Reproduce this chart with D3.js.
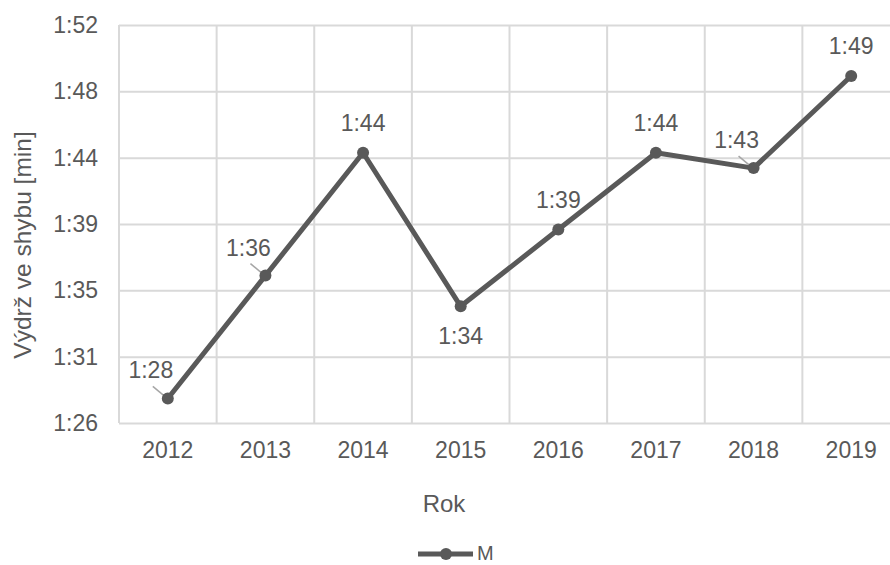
<html>
<script src='https://d3js.org/d3.v7.min.js'></script>
<style>
  body {margin: 0; background: #fff;}
  text {font-family: 'Liberation Sans', Arial, sans-serif; fill: #595959;}
</style>
<body onload='init()'>
<svg width=890 height=565></svg>
<script>
// data: seconds of hold per year
const years = ["2012", "2013", "2014", "2015", "2016", "2017", "2018", "2019"];
const seconds = [88, 96, 104, 94, 99, 104, 103, 109];
// Excel time axis: min 0.001 day, major unit 0.00005 day
const yTicks = [86.4, 90.72, 95.04, 99.36, 103.68, 108, 112.32];
// where each data label sits
const labelPos = ["left", "left", "top", "bottom", "top", "top", "left", "top"];

function fmt(s) {
  s = Math.round(s);
  const m = Math.floor(s / 60), r = s % 60;
  return m + ":" + (r < 10 ? "0" : "") + r;
}

function init() {
  const svg = d3.select("svg");
  const grey = "#595959";

  const x = d3.scaleBand().domain(years).range([119, 900]);
  const y = d3.scaleLinear().domain([86.4, 112.32]).range([423, 25]);

  // horizontal grid + y labels
  const ya = svg.append("g")
    .attr("transform", "translate(119,0)")
    .call(d3.axisLeft(y).tickValues(yTicks).tickFormat(fmt).tickSize(-781).tickPadding(21));
  ya.select(".domain").remove();
  ya.selectAll("line").attr("stroke", "#d9d9d9").attr("stroke-width", 2);
  ya.selectAll("text").style("font-size", "23px").attr("fill", grey);

  // vertical grid lines at band edges
  const edges = years.map(d => x(d)).concat([x.range()[1]]);
  svg.append("g").selectAll("line")
    .data(edges)
    .enter().append("line")
      .attr("x1", d => d).attr("x2", d => d)
      .attr("y1", y(112.32)).attr("y2", y(86.4))
      .attr("stroke", "#d9d9d9").attr("stroke-width", 2);

  // x labels
  const xa = svg.append("g")
    .attr("transform", "translate(0,423)")
    .call(d3.axisBottom(x).tickSize(0).tickPadding(19));
  xa.select(".domain").remove();
  xa.selectAll("text").style("font-size", "23px").attr("fill", grey);

  // axis titles
  svg.append("text")
    .attr("x", 444).attr("y", 512)
    .attr("text-anchor", "middle")
    .style("font-size", "24px")
    .text("Rok");
  svg.append("text")
    .attr("transform", "translate(31,245) rotate(-90)")
    .attr("text-anchor", "middle")
    .style("font-size", "24.5px")
    .text("Výdrž ve shybu [min]");

  const pts = years.map((d, i) => ({ year: d, v: seconds[i], pos: labelPos[i] }));
  const cx = d => x(d.year) + x.bandwidth() / 2;

  // line
  svg.append("path")
    .datum(pts)
    .attr("fill", "none")
    .attr("stroke", grey)
    .attr("stroke-width", 5)
    .attr("stroke-linejoin", "round")
    .attr("d", d3.line().x(cx).y(d => y(d.v)));

  // leader lines for side labels
  svg.append("g").selectAll("line")
    .data(pts.filter(d => d.pos === "left"))
    .enter().append("line")
      .attr("x1", d => cx(d) - 15).attr("y1", d => y(d.v) - 12)
      .attr("x2", d => cx(d) - 3).attr("y2", d => y(d.v) - 2)
      .attr("stroke", "#a6a6a6").attr("stroke-width", 1.5);

  // markers
  svg.append("g").selectAll("circle")
    .data(pts)
    .enter().append("circle")
      .attr("cx", cx)
      .attr("cy", d => y(d.v))
      .attr("r", 6)
      .attr("fill", grey);

  // data labels
  svg.append("g").selectAll("text")
    .data(pts)
    .enter().append("text")
      .attr("x", d => cx(d) + (d.pos === "left" ? -17 : 0))
      .attr("y", d => y(d.v) + (d.pos === "bottom" ? 38 : d.pos === "left" ? -20 : -22))
      .attr("text-anchor", "middle")
      .style("font-size", "23px")
      .text(d => fmt(d.v));

  // legend
  const lg = svg.append("g");
  lg.append("line")
    .attr("x1", 418).attr("x2", 473).attr("y1", 554).attr("y2", 554)
    .attr("stroke", grey).attr("stroke-width", 5);
  lg.append("circle").attr("cx", 446).attr("cy", 554).attr("r", 6).attr("fill", grey);
  lg.append("text")
    .attr("x", 477).attr("y", 560)
    .style("font-size", "20px")
    .text("M");
}
</script>
</body>
</html>
